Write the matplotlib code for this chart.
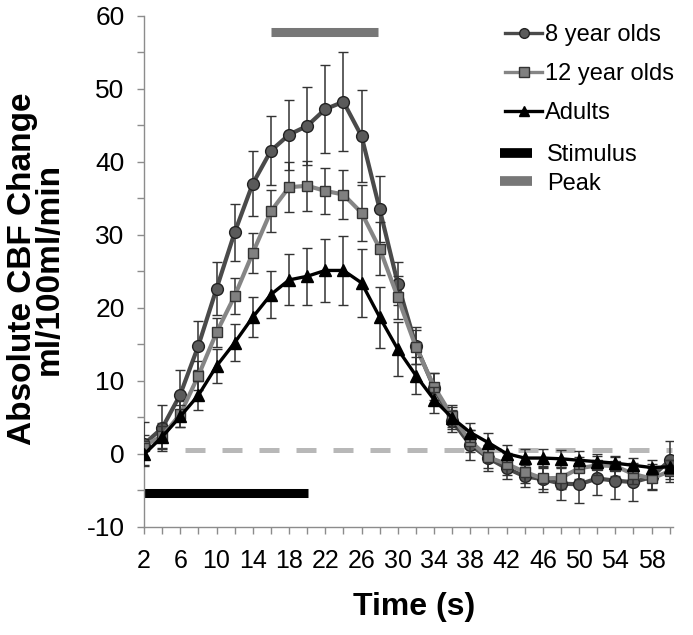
import matplotlib
matplotlib.use("Agg")
import matplotlib.pyplot as plt
from matplotlib.lines import Line2D
import numpy as np

time_s = list(range(2, 61, 2))

eight_mean = [1.3, 3.5, 8.1, 14.8, 22.6, 30.3, 37.0, 41.5, 43.7, 44.9, 47.2, 48.2, 43.5, 33.5, 23.3,
              14.8, 9.0, 4.5, 1.2, -0.6, -2.0, -3.1, -3.5, -4.1, -4.2, -3.4, -3.7, -3.9, -3.2, -0.9]
eight_err = [3.0, 3.1, 3.4, 3.4, 3.6, 3.9, 4.4, 4.7, 4.8, 5.3, 6.0, 6.8, 6.3, 4.5, 3.0,
             2.5, 2.0, 1.5, 2.0, 1.8, 1.5, 1.5, 1.8, 2.3, 2.6, 2.3, 2.5, 2.6, 1.8, 2.6]

twelve_mean = [1.1, 2.4, 5.4, 10.7, 16.6, 21.6, 27.5, 33.2, 36.5, 36.7, 36.0, 35.5, 33.0, 28.1, 21.4,
               14.6, 9.2, 5.1, 1.7, -0.5, -1.4, -2.5, -3.4, -3.3, -2.0, -1.6, -1.7, -2.8, -3.4, -2.4]
twelve_err = [1.5, 1.8, 1.8, 2.0, 2.0, 2.4, 2.7, 2.9, 3.4, 3.4, 3.1, 3.4, 3.8, 3.6, 3.0,
              2.3, 1.8, 1.5, 1.5, 1.5, 1.5, 1.5, 1.5, 1.5, 1.5, 1.3, 1.3, 1.3, 1.5, 1.5]

adult_mean = [-0.1, 2.3, 5.1, 8.0, 12.0, 15.2, 18.7, 21.8, 23.8, 24.3, 25.1, 25.1, 23.4, 18.7, 14.3,
              10.7, 7.4, 4.9, 2.9, 1.5, 0.0, -0.6, -0.6, -0.7, -0.9, -1.1, -1.3, -1.6, -1.9, -1.8]
adult_err = [1.5, 1.5, 1.5, 2.0, 2.3, 2.5, 2.7, 3.2, 3.5, 3.9, 4.3, 4.7, 4.7, 4.2, 3.7,
             2.5, 1.8, 1.5, 1.3, 1.3, 1.2, 1.2, 1.2, 1.2, 1.2, 1.0, 1.0, 1.0, 1.0, 1.0]

series_labels = ["8 year olds", "12 year olds", "Adults"]
bar_labels = ["Stimulus", "Peak"]

stimulus_span = [2, 20.1]
stimulus_level = -5.45
peak_span = [16, 27.8]
peak_level = 57.8
baseline_span = [6.5, 60.3]
baseline_level = 0.5

plt.rcParams['font.family'] = ['Liberation Sans', 'DejaVu Sans']

fig = plt.figure(figsize=(6.93, 6.35), dpi=100)
ax = fig.add_axes([0.2078, 0.1706, 0.7632, 0.8047])

# reference lines / bars
ax.plot(baseline_span, [baseline_level] * 2, color='#b8b8b8', lw=3.6,
        dashes=(4.0, 3.4), solid_capstyle='butt', dash_capstyle='butt', zorder=1)
ax.plot(stimulus_span, [stimulus_level] * 2, color='black', lw=6.5,
        solid_capstyle='butt', zorder=2)
ax.plot(peak_span, [peak_level] * 2, color='#777777', lw=6.5,
        solid_capstyle='butt', zorder=2)

ebar_kw = dict(ecolor='#333333', elinewidth=1.1, capsize=3.6, capthick=1.1)

ax.errorbar(time_s, eight_mean, yerr=eight_err, color='#4a4a4a', lw=3.0,
            marker='o', ms=8.5, mfc='#5a5a5a', mec='#222222', mew=1.0, zorder=3, **ebar_kw)
ax.errorbar(time_s, twelve_mean, yerr=twelve_err, color='#858585', lw=3.0,
            marker='s', ms=7.5, mfc='#808080', mec='#333333', mew=1.0, zorder=4, **ebar_kw)
ax.errorbar(time_s, adult_mean, yerr=adult_err, color='black', lw=2.4,
            marker='^', ms=8.5, mfc='black', mec='black', mew=1.0, zorder=5, **ebar_kw)

ax.set_xlim(2, 60.35)
ax.set_ylim(-10, 60)

ax.set_xticks(time_s)
ax.set_xticklabels([str(t) if (t - 2) % 4 == 0 else "" for t in time_s])
ax.set_yticks(np.arange(-10, 61, 5))
ax.set_yticklabels([str(v) if v % 10 == 0 else "" for v in range(-10, 61, 5)])

ax.tick_params(axis='both', direction='out', length=5, width=1.0, color='#8c8c8c')
ax.tick_params(axis='x', labelsize=18, pad=11)
ax.tick_params(axis='y', labelsize=19, pad=9)

for side in ['top', 'right']:
    ax.spines[side].set_visible(False)
for side in ['left', 'bottom']:
    ax.spines[side].set_color('#8c8c8c')
    ax.spines[side].set_linewidth(1.0)

ax.set_xlabel("Time (s)", fontsize=23, fontweight='bold')
ax.xaxis.set_label_coords(0.51, -0.128)
ax.set_ylabel("Absolute CBF Change\nml/100ml/min", fontsize=24, fontweight='bold',
              linespacing=0.8)
ax.yaxis.set_label_coords(-0.15, 0.505)

# legends
h1 = [Line2D([], [], color='#4a4a4a', lw=2.4, marker='o', ms=7, mfc='#5a5a5a', mec='#222222'),
      Line2D([], [], color='#858585', lw=2.4, marker='s', ms=6.5, mfc='#808080', mec='#333333'),
      Line2D([], [], color='black', lw=2.4, marker='^', ms=7.5, mfc='black', mec='black')]
leg1 = ax.legend(h1, series_labels, loc='upper left', bbox_to_anchor=(0.664, 1.002),
                 frameon=False, fontsize=17, handlelength=1.6, handletextpad=0.1,
                 labelspacing=0.72, borderaxespad=0)
ax.add_artist(leg1)
h2 = [Line2D([], [], color='black', lw=7, solid_capstyle='butt'),
      Line2D([], [], color='#777777', lw=7, solid_capstyle='butt')]
ax.legend(h2, bar_labels, loc='upper left', bbox_to_anchor=(0.655, 0.767),
          frameon=False, fontsize=17, handlelength=1.36, handletextpad=0.62,
          labelspacing=0.27, borderaxespad=0)

fig.savefig("out.png", dpi=100)
